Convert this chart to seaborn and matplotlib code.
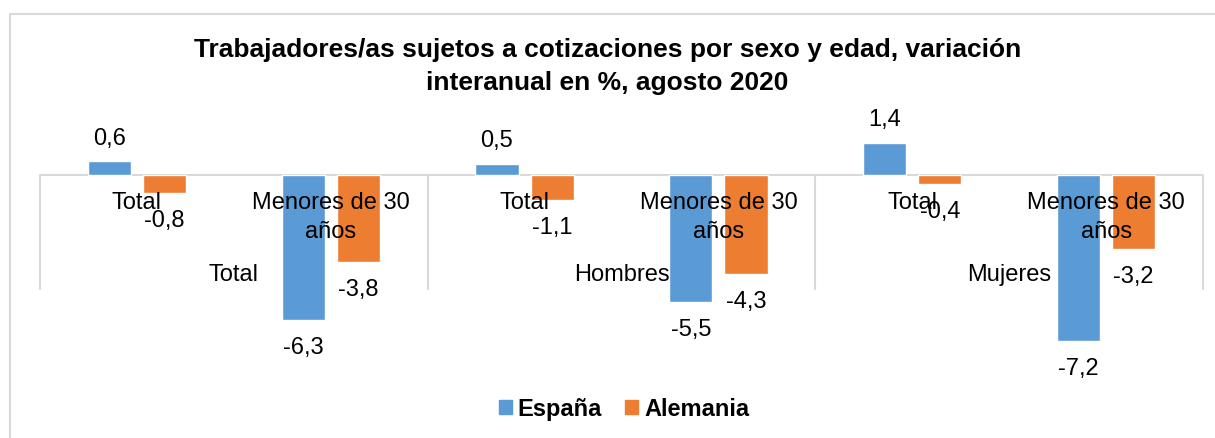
import pandas as pd
import matplotlib.pyplot as plt
import matplotlib.patches as mpatches
import seaborn as sns

# ----------------------------
# Data
# ----------------------------
grupos = ["Total", "Hombres", "Mujeres"]
edades = ["Total", "Menores de 30\naños"]
espana = [0.6, -6.3, 0.5, -5.5, 1.4, -7.2]
alemania = [-0.8, -3.8, -1.1, -4.3, -0.4, -3.2]
series = ["España", "Alemania"]
colores = ["#5B9BD5", "#ED7D31"]

cats = [f"{g}|{e}" for g in grupos for e in edades]
df = pd.DataFrame({
    "cat": cats * 2,
    "serie": [series[0]] * len(cats) + [series[1]] * len(cats),
    "valor": espana + alemania,
})

# ----------------------------
# Figure
# ----------------------------
sns.set_style("white")
plt.rcParams["font.family"] = ["Liberation Sans", "DejaVu Sans"]
plt.rcParams["text.color"] = "black"

W, H = 1215, 439
fig = plt.figure(figsize=(W / 100, H / 100), dpi=100)

# outer chart border (top and left only visible)
fig.add_artist(plt.Line2D([10 / W, 1.0], [1 - 15 / H, 1 - 15 / H],
                          color="#D9D9D9", lw=1.5, transform=fig.transFigure))
fig.add_artist(plt.Line2D([10 / W, 10 / W], [0, 1 - 15 / H],
                          color="#D9D9D9", lw=1.5, transform=fig.transFigure))

# axes: x from px 40 to 1203, zero line at px 176, 23 px per unit
y_top, y_bot = 130, 360
ax = fig.add_axes([40 / W, 1 - y_bot / H, (1203 - 40) / W, (y_bot - y_top) / H])
ax.set_ylim(-(y_bot - 176) / 23, (176 - y_top) / 23)

sns.barplot(data=df, x="cat", y="valor", hue="serie", order=cats,
            hue_order=series, palette=colores, width=0.57, gap=0.22,
            saturation=1, legend=False, ax=ax, zorder=2)
ax.set_xlim(-0.5, len(cats) - 0.5)
for s in ax.spines.values():
    s.set_visible(False)
ax.set_xticks([])
ax.set_yticks([])
ax.set_xlabel("")
ax.set_ylabel("")

# zero line and group separators
ax.axhline(0, color="#D9D9D9", lw=1.5, zorder=1)
for xs in [-0.5, 1.5, 3.5, 5.5]:
    ax.plot([xs, xs], [0, -(290 - 176) / 23], color="#D9D9D9", lw=1.5,
            zorder=1, clip_on=False)

# data labels
for cont in ax.containers:
    for bar in cont:
        v = bar.get_height()
        xc = bar.get_x() + bar.get_width() / 2
        lbl = f"{v:.1f}".replace(".", ",")
        off = 17 if v >= 0 else -19.5
        ax.annotate(lbl, (xc, v), xytext=(0, off), textcoords="offset points",
                    ha="center", va="center", fontsize=17, zorder=5,
                    annotation_clip=False)

# category labels
for i, c in enumerate(cats):
    e = c.split("|")[1]
    yy = -(203 - 176) / 23 if "\n" not in e else -(217.5 - 176) / 23
    ax.text(i, yy, e, ha="center", va="center", fontsize=17,
            linespacing=1.4, zorder=5)
for j, g in enumerate(grupos):
    ax.text(2 * j + 0.5, -(275 - 176) / 23, g, ha="center", va="center",
            fontsize=17, zorder=5)

# title
fig.text(0.5, 1 - 66.5 / H,
         "Trabajadores/as sujetos a cotizaciones por sexo y edad, variación\ninteranual en %, agosto 2020",
         ha="center", va="center", fontsize=19, fontweight="bold",
         linespacing=1.5)

# legend
handles = [mpatches.Patch(color=c, label=s) for s, c in zip(series, colores)]
fig.legend(handles=handles, loc="center", bbox_to_anchor=(624 / W, 1 - 410 / H),
           ncol=2, frameon=False, prop={"weight": "bold", "size": 17},
           handlelength=0.55, handleheight=0.55, handletextpad=0.25,
           columnspacing=1.0)

plt.savefig("out.png", dpi=100)
